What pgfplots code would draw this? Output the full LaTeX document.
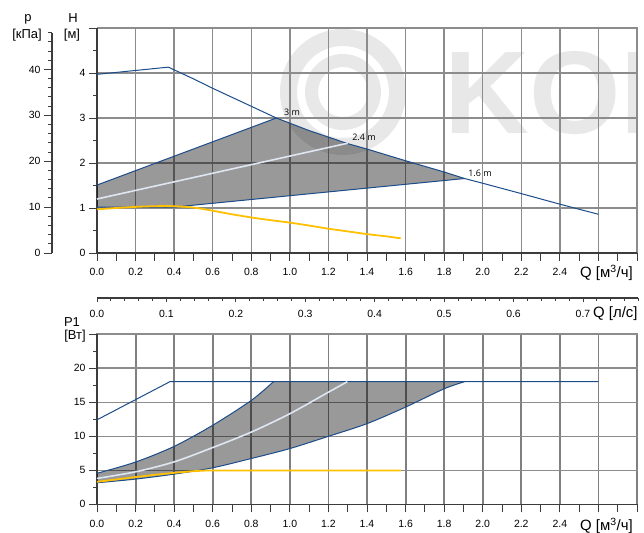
\documentclass[border=0pt]{standalone}
\usepackage{fontspec}
\setmainfont{Liberation Sans}
\newfontfamily\annfont{Open Sans}
\usepackage{pgfplots}
\pgfplotsset{compat=1.18}
\definecolor{pblue}{RGB}{28,76,138}
\definecolor{pwhite}{RGB}{222,230,242}
\definecolor{porange}{RGB}{255,192,0}
\definecolor{pgrid}{RGB}{140,140,140}
\definecolor{pgridb}{RGB}{128,128,128}
\definecolor{paxis}{RGB}{60,60,60}
\definecolor{wmark}{RGB}{232,232,232}
\pgfplotsset{
  pbase/.style={
    scale only axis,
    axis lines=left,
    axis line style={-, draw=paxis, line width=1.3bp},
    tick align=outside,
    tick style={draw=paxis, line width=0.9bp},
    major tick length=8bp,
    minor tick length=4bp,
    tick label style={font=\fontsize{10.5}{12}\selectfont},
    /pgf/number format/assume math mode=true,
    clip=false,
  },
  qticks/.style={
    xmin=0, xmax=2.8,
    xtick={0,0.1,0.2,0.3,0.4,0.5,0.6,0.7,0.8,0.9,1.0,1.1,1.2,1.3,1.4,1.5,1.6,1.7,1.8,1.9,2.0,2.1,2.2,2.3,2.4,2.5,2.6,2.7,2.8},
    xticklabels={0.0,,0.2,,0.4,,0.6,,0.8,,1.0,,1.2,,1.4,,1.6,,1.8,,2.0,,2.2,,2.4,,,,},
    xticklabel style={yshift=-4bp},
  },
  blueline/.style={draw=pblue, line width=1bp, no markers},
  whiteline/.style={draw=pwhite, line width=1.6bp, no markers},
  orangeline/.style={draw=porange, line width=1.8bp, no markers},
  shade/.style={fill=black, fill opacity=0.4, draw=none, no markers},
}
\begin{document}
\begin{tikzpicture}
\useasboundingbox (0,0) rectangle (644bp,533bp);
% watermark
\begin{scope}
\clip (97bp,280bp) rectangle (637bp,505bp);
\fill[wmark, even odd rule] (343bp,441bp) circle (63bp) (343bp,441bp) circle (46bp);
\fill[wmark, even odd rule] (343bp,441bp) circle (38bp) (343bp,441bp) circle (25bp);
\node[anchor=base west, inner sep=0pt, text=wmark, font=\fontsize{118}{118}\selectfont\bfseries] at (444bp,399bp) {KON};
\end{scope}
% vertical grid of the top chart
\foreach \k in {0,...,14} {
  \fill[pgrid] ({(96.3+38.5714*\k)*1bp},280bp) rectangle ({(97.7+38.5714*\k)*1bp},505bp);
}
% vertical grid of the bottom chart (wider, darker strips)
\foreach \x in {97,135.6,174.1,212.7,251.3,289.9,328.4,367,405.6,444.1,482.7,521.3,559.9,598.4,637} {
  \fill[pgridb] ({(\x-0.9)*1bp},28.7bp) rectangle ({(\x+0.9)*1bp},199.5bp);
}
% horizontal grid: every 1 m and every 5 W
\foreach \k in {0,...,5} {
  \fill[pgrid] (97bp,{(279.4+45*\k)*1bp}) rectangle (637.7bp,{(280.6+45*\k)*1bp});
  \fill[pgrid] (97bp,{(28.1+34.06*\k)*1bp}) rectangle (637.7bp,{(29.3+34.06*\k)*1bp});
}

% ---------- top chart: H ----------
\begin{axis}[pbase, qticks, at={(97bp,280bp)}, anchor=south west,
  width=540bp, height=225bp, ymin=0, ymax=5,
  ytick={0,1,2,3,4,5}, yticklabels={0,1,2,3,4,},
  minor ytick={0.5,1.5,2.5,3.5,4.5}]
\addplot[shade] coordinates {(0,1.51) (0.93,3.0) (1.1,2.72) (1.3,2.43) (1.4,2.31) (1.6,2.05) (1.8,1.8) (1.906,1.655) (0.4,1.02) (0,1.02)} --cycle;
\addplot[blueline] coordinates {(0,3.97) (0.37,4.13) (0.5,3.87) (0.6,3.66) (0.7,3.46) (0.8,3.26) (0.93,3.0) (1.1,2.72) (1.3,2.43) (1.4,2.31) (1.6,2.05) (1.8,1.8) (1.906,1.655) (2.0,1.55) (2.2,1.32) (2.4,1.085) (2.6,0.86)};
\addplot[blueline] coordinates {(0,1.51) (0.93,3.0)};
\addplot[blueline] coordinates {(0,1.02) (0.4,1.02) (1.906,1.655)};
\addplot[whiteline] coordinates {(0,1.2) (1.3,2.44)};
\addplot[orangeline, smooth] coordinates {(0,0.97) (0.1,1.0) (0.2,1.025) (0.3,1.04) (0.4,1.04) (0.5,1.01) (0.6,0.94) (0.7,0.86) (0.8,0.79) (0.9,0.73) (1.0,0.675) (1.1,0.61) (1.2,0.54) (1.3,0.48) (1.4,0.42) (1.5,0.37) (1.575,0.327)};
\end{axis}

% ---------- p axis (kPa) ----------
\begin{axis}[pbase, at={(52bp,280bp)}, anchor=south west,
  width=1bp, height=220.3bp, xmin=0, xmax=1, ymin=0, ymax=48,
  axis x line=none,
  ytick={0,10,20,30,40}, minor ytick={2,4,6,8,12,14,16,18,22,24,26,28,32,34,36,38,42,44,46,48}]
\end{axis}

% ---------- middle axis: l/s ----------
\begin{axis}[pbase, at={(97bp,235bp)}, anchor=south west,
  width=541.5bp, height=1bp, xmin=0, xmax=0.78, ymin=0, ymax=1,
  axis y line=none,
  major tick length=4bp, minor tick length=3bp,
  xticklabel style={yshift=-5bp},
  xtick={0,0.1,0.2,0.3,0.4,0.5,0.6,0.7},
  xticklabels={0.0,0.1,0.2,0.3,0.4,0.5,0.6,0.7},
  minor xtick={0.02,0.04,0.06,0.08,0.12,0.14,0.16,0.18,0.22,0.24,0.26,0.28,0.32,0.34,0.36,0.38,0.42,0.44,0.46,0.48,0.52,0.54,0.56,0.58,0.62,0.64,0.66,0.68,0.72,0.74,0.76,0.78}]
\end{axis}

% ---------- bottom chart: P1 ----------
\begin{axis}[pbase, qticks, at={(97bp,28.7bp)}, anchor=south west,
  width=540bp, height=170.3bp, ymin=0, ymax=25,
  ytick={0,5,10,15,20,25}, yticklabels={0,5,10,15,20,},
  minor ytick={2.5,7.5,12.5,17.5,22.5}]
\addplot[shade] coordinates {(0,4.55) (0.1,5.33) (0.2,6.2) (0.3,7.3) (0.4,8.5) (0.5,9.98) (0.6,11.6) (0.7,13.35) (0.8,15.25) (0.86,16.6) (0.915,18) (1.906,18) (1.8,16.96) (1.7,15.6) (1.6,14.27) (1.5,13.0) (1.4,11.84) (1.3,10.85) (1.2,9.98) (1.1,9.05) (1.0,8.18) (0.9,7.42) (0.8,6.72) (0.7,6.0) (0.6,5.36) (0.5,4.86) (0.4,4.43) (0.3,4.04) (0.2,3.7) (0.1,3.41) (0,3.16)} --cycle;
\addplot[blueline] coordinates {(0,12.4) (0.378,18) (2.6,18)};
\addplot[blueline, smooth] coordinates {(0,4.55) (0.2,6.2) (0.4,8.5) (0.6,11.6) (0.8,15.25) (0.915,18)};
\addplot[blueline, smooth] coordinates {(0,3.16) (0.2,3.7) (0.4,4.43) (0.6,5.36) (0.8,6.72) (1.0,8.18) (1.2,9.98) (1.4,11.84) (1.6,14.27) (1.8,16.96) (1.906,18)};
\addplot[whiteline, smooth] coordinates {(0,3.8) (0.2,4.77) (0.4,6.23) (0.6,8.33) (0.8,10.6) (1.0,13.3) (1.2,16.46) (1.298,18)};
\addplot[orangeline] coordinates {(0,3.3) (0.1,3.65) (0.2,4.0) (0.3,4.33) (0.4,4.62) (0.5,4.86) (0.56,4.95) (1.575,4.95)};
\end{axis}

% ---------- texts ----------
\node[font=\fontsize{13}{14}\selectfont] at (28bp,514bp) {p};
\node[font=\fontsize{13}{14}\selectfont] at (27bp,498bp) {[кПа]};
\node[font=\fontsize{13}{14}\selectfont] at (73bp,515bp) {H};
\node[font=\fontsize{13}{14}\selectfont] at (72bp,498bp) {[м]};
\node[font=\fontsize{13}{14}\selectfont] at (72bp,211bp) {P1};
\node[font=\fontsize{13}{14}\selectfont] at (75bp,197bp) {[Вт]};
\node[anchor=west, inner sep=0pt, font=\fontsize{15}{16}\selectfont] at (580bp,260bp) {Q [м\textsuperscript{3}/ч]};
\node[anchor=west, inner sep=0pt, font=\fontsize{15}{16}\selectfont] at (593bp,219bp) {Q [л/с]};
\node[anchor=west, inner sep=0pt, font=\fontsize{15}{16}\selectfont] at (580bp,7bp) {Q [м\textsuperscript{3}/ч]};
\node[font=\annfont\fontsize{9}{10}\selectfont] at (292bp,421bp) {3 m};
\node[font=\annfont\fontsize{9}{10}\selectfont] at (364bp,396bp) {2.4 m};
\node[font=\annfont\fontsize{9}{10}\selectfont] at (480bp,359.5bp) {1.6 m};
\end{tikzpicture}
\end{document}
